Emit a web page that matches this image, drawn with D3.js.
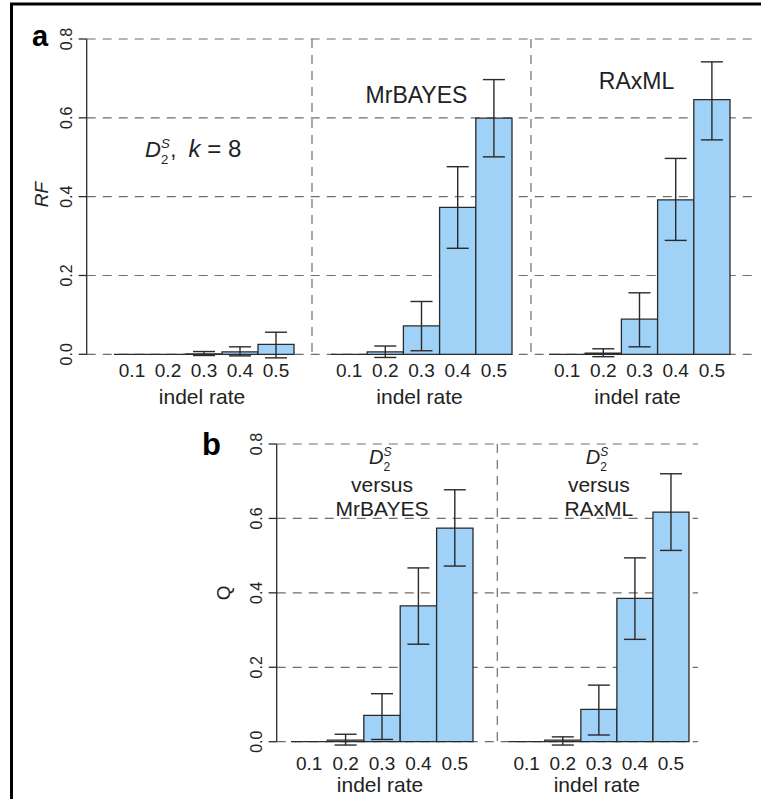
<!DOCTYPE html>
<html>
<head>
<meta charset="utf-8">
<script src="https://cdn.jsdelivr.net/npm/d3@7"></script>
<style>
  body { margin: 0; background: #fff; }
  svg { display: block; font-family: "Liberation Sans", Arial, sans-serif; }
</style>
</head>
<body>
<script>
// indel rates (x categories)
const rates = ["0.1", "0.2", "0.3", "0.4", "0.5"];
const yTicks = [0, 0.2, 0.4, 0.6, 0.8];

// panel a : RF distances
const rfD2 = [0, 0, 0.001, 0.006, 0.025];
const rfD2Lo = [0, 0, -0.003, -0.004, -0.009];
const rfD2Hi = [0, 0, 0.007, 0.019, 0.056];

const rfMrBayes = [0, 0.006, 0.072, 0.373, 0.599];
const rfMrBayesLo = [0, -0.008, 0.009, 0.269, 0.501];
const rfMrBayesHi = [0, 0.021, 0.134, 0.476, 0.697];

const rfRaxml = [0, 0.003, 0.089, 0.392, 0.646];
const rfRaxmlLo = [0, -0.006, 0.019, 0.289, 0.544];
const rfRaxmlHi = [0, 0.014, 0.156, 0.497, 0.742];

// panel b : Q
const qMrBayes = [0, 0.004, 0.071, 0.365, 0.574];
const qMrBayesLo = [0, -0.009, 0.006, 0.262, 0.472];
const qMrBayesHi = [0, 0.020, 0.129, 0.467, 0.677];

const qRaxml = [0, 0.004, 0.087, 0.385, 0.617];
const qRaxmlLo = [0, -0.009, 0.018, 0.275, 0.514];
const qRaxmlHi = [0, 0.013, 0.152, 0.494, 0.720];

const W = 761, H = 799;
const barFill = "#a0d1f7";
const ink = "#2a2a2a";
const gridCol = "#6e6e6e";
const dash = "9,7";

const svg = d3.select("body").append("svg")
  .attr("width", W).attr("height", H);

svg.append("rect").attr("width", W).attr("height", H).attr("fill", "#fff");

// cadre (only top and left edges are visible)
svg.append("path")
  .attr("d", `M11.5,${H} L11.5,4 L${W},4`)
  .attr("fill", "none").attr("stroke", "#000").attr("stroke-width", 3);

function drawRow(cfg) {
  const y = d3.scaleLinear().domain([0, 0.8]).range([cfg.y0, cfg.y1]);
  const g = svg.append("g");

  // horizontal dashed grid
  g.selectAll(".grid").data(yTicks).join("line")
    .attr("x1", cfg.axisX).attr("x2", cfg.gridEnd)
    .attr("y1", d => y(d)).attr("y2", d => y(d))
    .attr("stroke", gridCol).attr("stroke-width", 1.2)
    .attr("stroke-dasharray", dash);

  // vertical dashed separators
  g.selectAll(".sep").data(cfg.dividers).join("line")
    .attr("x1", d => d).attr("x2", d => d)
    .attr("y1", y(0.8)).attr("y2", y(0))
    .attr("stroke", gridCol).attr("stroke-width", 1.2)
    .attr("stroke-dasharray", dash);

  // y axis (R style: solid line + outside ticks, rotated labels)
  const yAxis = g.append("g").attr("transform", `translate(${cfg.axisX},0)`);
  yAxis.append("line").attr("y1", y(0)).attr("y2", y(0.8))
    .attr("stroke", ink).attr("stroke-width", 1.3);
  yAxis.selectAll(".tk").data(yTicks).join("line")
    .attr("x1", -8).attr("x2", 0)
    .attr("y1", d => y(d)).attr("y2", d => y(d))
    .attr("stroke", ink).attr("stroke-width", 1.3);
  yAxis.selectAll(".tl").data(yTicks).join("text")
    .attr("transform", d => `translate(-15,${y(d)}) rotate(-90)`)
    .attr("text-anchor", "middle")
    .attr("font-size", 16).attr("fill", "#222")
    .text(d => d.toFixed(1));
  yAxis.append("text")
    .attr("transform", `translate(${cfg.titleX - cfg.axisX},${y(cfg.titleAt)}) rotate(-90)`)
    .attr("text-anchor", "middle")
    .attr("font-size", 19).attr("fill", "#222")
    .attr("font-style", cfg.titleItalic ? "italic" : "normal")
    .text(cfg.title);

  // panel letter
  svg.append("text")
    .attr("x", cfg.letterX).attr("y", cfg.letterY)
    .attr("font-size", cfg.letterSize).attr("font-weight", "bold")
    .text(cfg.letter);

  cfg.panels.forEach(p => {
    const x = d3.scaleBand().domain(rates).range(p.range).paddingInner(0);
    const rows = rates.map((r, i) => ({ r, v: p.vals[i], lo: p.lo[i], hi: p.hi[i] }));
    const pg = g.append("g");

    // bars as closed paths so zero-height bars still show as a line
    pg.selectAll(".bar").data(rows).join("path")
      .attr("d", d => {
        const x0 = x(d.r), x1 = x0 + x.bandwidth();
        return `M${x0},${y(0)}L${x0},${y(d.v)}L${x1},${y(d.v)}L${x1},${y(0)}Z`;
      })
      .attr("fill", barFill).attr("stroke", ink).attr("stroke-width", 1.3);

    const eb = rows.filter(d => d.hi > d.lo);
    const cx = d => x(d.r) + x.bandwidth() / 2;
    pg.selectAll(".eb").data(eb).join("line")
      .attr("x1", cx).attr("x2", cx)
      .attr("y1", d => y(d.lo)).attr("y2", d => y(d.hi))
      .attr("stroke", ink).attr("stroke-width", 1.4);
    ["lo", "hi"].forEach(k => {
      pg.selectAll(".cap-" + k).data(eb).join("line")
        .attr("x1", d => cx(d) - 11).attr("x2", d => cx(d) + 11)
        .attr("y1", d => y(d[k])).attr("y2", d => y(d[k]))
        .attr("stroke", ink).attr("stroke-width", 1.4);
    });

    // x tick labels + title
    pg.selectAll(".xl").data(rates).join("text")
      .attr("x", d => x(d) + x.bandwidth() / 2)
      .attr("y", y(0) + cfg.tickDy)
      .attr("text-anchor", "middle").attr("font-size", 19).attr("fill", "#222")
      .text(d => d);
    const mid = (p.range[0] + p.range[1]) / 2;
    pg.append("text")
      .attr("x", mid - 2).attr("y", y(0) + 50)
      .attr("text-anchor", "middle").attr("font-size", 21).attr("fill", "#222")
      .text("indel rate");

    if (p.label) p.label(pg, mid, y);
  });
}

// helper: D_2^S symbol
function d2s(sel, size) {
  sel.append("tspan").attr("font-style", "italic").text("D");
  sel.append("tspan").attr("font-style", "italic").attr("font-size", size * 0.6)
    .attr("dy", -size * 0.42).text("S");
  sel.append("tspan").attr("font-size", size * 0.6)
    .attr("dx", -size * 0.4).attr("dy", size * 0.74).text("2");
}

drawRow({
  y0: 354.3, y1: 39, axisX: 86.7, gridEnd: 756,
  dividers: [312, 531],
  title: "RF", titleItalic: true, titleX: 48, titleAt: 0.405,
  letter: "a", letterX: 32, letterY: 46, letterSize: 29,
  tickDy: 23,
  panels: [
    { range: [114, 294], vals: rfD2, lo: rfD2Lo, hi: rfD2Hi,
      label: (pg, mid, y) => {
        const t = pg.append("text").attr("x", mid - 59).attr("y", y(0.5))
          .attr("font-size", 22).attr("fill", "#222")
          .attr("xml:space", "preserve").style("white-space", "pre");
        d2s(t, 22);
        t.append("tspan").attr("dy", -22 * 0.32).attr("dx", 2).text(",  ");
        t.append("tspan").attr("font-style", "italic").attr("font-size", 24).text("k");
        t.append("tspan").attr("font-size", 24).text(" = 8");
      } },
    { range: [331, 512], vals: rfMrBayes, lo: rfMrBayesLo, hi: rfMrBayesHi,
      label: (pg, mid, y) => pg.append("text").attr("x", mid - 5).attr("y", y(0.638))
        .attr("text-anchor", "middle").attr("font-size", 23).attr("fill", "#222")
        .text("MrBAYES") },
    { range: [549, 730], vals: rfRaxml, lo: rfRaxmlLo, hi: rfRaxmlHi,
      label: (pg, mid, y) => pg.append("text").attr("x", mid - 3).attr("y", y(0.674))
        .attr("text-anchor", "middle").attr("font-size", 23).attr("fill", "#222")
        .text("RAxML") }
  ]
});

function versusLabel(name) {
  return (pg, mid, y) => {
    const t = pg.append("text").attr("x", mid - 13).attr("y", y(0.745))
      .attr("text-anchor", "start").attr("font-size", 20).attr("fill", "#222");
    d2s(t, 20);
    pg.append("text").attr("x", mid).attr("y", y(0.670))
      .attr("text-anchor", "middle").attr("font-size", 21).attr("fill", "#222")
      .text("versus");
    pg.append("text").attr("x", mid).attr("y", y(0.607))
      .attr("text-anchor", "middle").attr("font-size", 21).attr("fill", "#222")
      .text(name);
  };
}

drawRow({
  y0: 741.7, y1: 444, axisX: 276.7, gridEnd: 698,
  dividers: [497.3],
  title: "Q", titleItalic: false, titleX: 230, titleAt: 0.4,
  letter: "b", letterX: 202, letterY: 455, letterSize: 31,
  tickDy: 28,
  panels: [
    { range: [291, 473], vals: qMrBayes, lo: qMrBayesLo, hi: qMrBayesHi,
      label: versusLabel("MrBAYES") },
    { range: [508.7, 689], vals: qRaxml, lo: qRaxmlLo, hi: qRaxmlHi,
      label: versusLabel("RAxML") }
  ]
});
</script>
</body>
</html>
